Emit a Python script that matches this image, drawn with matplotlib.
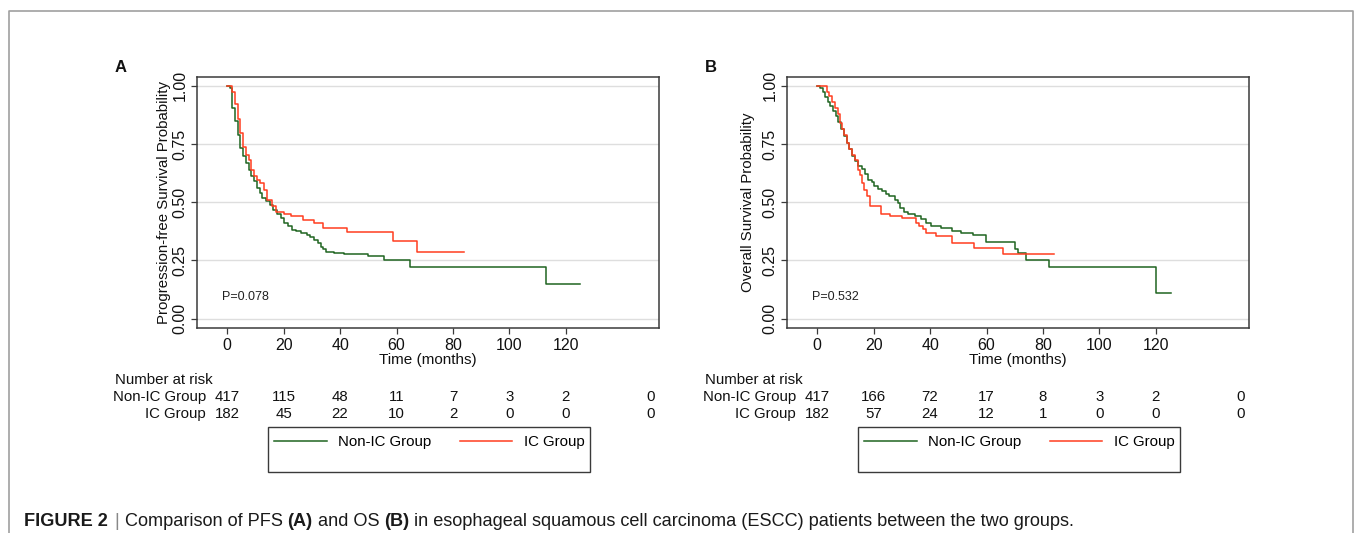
import matplotlib
matplotlib.use("Agg")
import matplotlib.pyplot as plt
from matplotlib import font_manager
from matplotlib.patches import Rectangle
from matplotlib.lines import Line2D
import numpy as np

# ---------------- data ----------------
# Panel A: PFS (step times in months, survival after each step)
pfs_nonic_t = [0, 1.0, 1.7, 2.75, 3.7, 4.6, 5.6, 6.7, 7.6, 8.5, 9.6, 10.5, 11.5, 12.5, 13.8, 15.1, 16.4,
               17.7, 19.0, 20.3, 21.6, 23.0, 24.3, 26.2, 28.2, 29.5, 30.8, 32.1, 33.2, 34.1, 35.0, 36.7,
               38.0, 41.3, 50.0, 55.7, 64.7, 113.0, 125.0]
pfs_nonic_s = [1.0, 0.99, 0.906, 0.849, 0.787, 0.734, 0.698, 0.67, 0.64, 0.612, 0.59, 0.561, 0.54, 0.518,
               0.504, 0.488, 0.468, 0.45, 0.432, 0.41, 0.396, 0.381, 0.375, 0.367, 0.36, 0.35, 0.338, 0.324,
               0.309, 0.298, 0.288, 0.285, 0.282, 0.279, 0.269, 0.252, 0.223, 0.151, 0.151]
pfs_ic_t = [0, 1.7, 2.75, 3.7, 4.6, 5.6, 6.7, 7.6, 8.5, 9.6, 10.6, 11.5, 12.9, 14.0, 15.7, 17.4, 20.3,
            22.7, 26.9, 30.8, 33.8, 42.6, 58.8, 67.1, 84.0]
pfs_ic_s = [1.0, 0.974, 0.924, 0.859, 0.796, 0.737, 0.705, 0.683, 0.64, 0.612, 0.597, 0.583, 0.554, 0.511,
            0.482, 0.46, 0.45, 0.439, 0.424, 0.41, 0.391, 0.371, 0.334, 0.285, 0.285]

# Panel B: OS
os_nonic_t = [0, 0.9, 2.0, 2.9, 3.8, 4.7, 5.6, 6.6, 7.5, 8.5, 9.6, 10.5, 11.4, 12.5, 13.5, 14.6, 15.7,
              17.0, 18.1, 19.3, 20.3, 21.6, 23.0, 24.3, 25.6, 27.5, 28.5, 29.5, 30.8, 32.1, 34.8, 36.7,
              38.7, 40.3, 43.9, 47.9, 51.1, 55.1, 59.7, 70.2, 71.1, 74.1, 82.0, 120.0, 125.2]
os_nonic_s = [1.0, 0.99, 0.975, 0.953, 0.932, 0.914, 0.892, 0.87, 0.843, 0.813, 0.783, 0.755, 0.727, 0.7,
              0.678, 0.655, 0.642, 0.621, 0.597, 0.585, 0.57, 0.558, 0.547, 0.536, 0.525, 0.511, 0.496,
              0.477, 0.46, 0.45, 0.442, 0.427, 0.413, 0.399, 0.388, 0.378, 0.37, 0.36, 0.331, 0.301,
              0.281, 0.252, 0.223, 0.112, 0.112]
os_ic_t = [0, 3.3, 4.2, 5.2, 6.2, 7.2, 8.0, 8.8, 9.6, 10.5, 11.4, 12.5, 13.4, 14.4, 15.1, 15.9, 16.7,
           17.7, 18.8, 22.7, 25.8, 30.2, 35.0, 36.1, 37.4, 38.7, 42.0, 47.9, 55.7, 66.0, 84.0]
os_ic_s = [1.0, 0.975, 0.957, 0.93, 0.906, 0.878, 0.842, 0.813, 0.791, 0.755, 0.727, 0.705, 0.683, 0.64,
           0.619, 0.583, 0.554, 0.525, 0.485, 0.45, 0.442, 0.432, 0.413, 0.399, 0.384, 0.37, 0.353,
           0.327, 0.302, 0.278, 0.278]

risk_times = [0, 20, 40, 60, 80, 100, 120, 150]
pfs_risk_nonic = [417, 115, 48, 11, 7, 3, 2, 0]
pfs_risk_ic = [182, 45, 22, 10, 2, 0, 0, 0]
os_risk_nonic = [417, 166, 72, 17, 8, 3, 2, 0]
os_risk_ic = [182, 57, 24, 12, 1, 0, 0, 0]

group_names = ["Non-IC Group", "IC Group"]
panel_letters = ["A", "B"]
ylabels = ["Progression-free Survival Probability", "Overall Survival Probability"]
pvalues = ["P=0.078", "P=0.532"]
xticks = [0, 20, 40, 60, 80, 100, 120]
yticks = [0.0, 0.25, 0.5, 0.75, 1.0]
caption_parts = [("FIGURE 2", "bold"), ("|", "sep"), ("Comparison of PFS", "normal"), ("(A)", "bold"),
                 ("and OS", "normal"), ("(B)", "bold"),
                 ("in esophageal squamous cell carcinoma (ESCC) patients between the two groups.", "normal")]

# ---------------- style ----------------
GREEN = "#1f6420"
RED = "#ff3d1f"
FONT = "Liberation Sans"


def has_font(name):
    try:
        font_manager.findfont(font_manager.FontProperties(family=name), fallback_to_default=False)
        return True
    except Exception:
        return False


CAPFONT = "Liberation Sans Narrow" if has_font("Liberation Sans Narrow") else FONT
CAPSIZE = 14.5 if CAPFONT != FONT else 13.1
plt.rcParams["font.family"] = [FONT, "DejaVu Sans"]

W, H = 1355, 533
fig = plt.figure(figsize=(W / 100, H / 100), dpi=100)


def fx(px):
    return px / W


def fy(py):
    return 1 - py / H


# outer frame (left, top, right)
fig.add_artist(Line2D([fx(9), fx(9), fx(1353), fx(1353)], [0, fy(11), fy(11), 0],
                      transform=fig.transFigure, color="#a0a0a0", lw=1.2))

panels = [
    dict(left=197, curves=[(pfs_nonic_t, pfs_nonic_s), (pfs_ic_t, pfs_ic_s)],
         risk=[pfs_risk_nonic, pfs_risk_ic], ylabpad=1),
    dict(left=787, curves=[(os_nonic_t, os_nonic_s), (os_ic_t, os_ic_s)],
         risk=[os_risk_nonic, os_risk_ic], ylabpad=5),
]
AX_W, AX_TOP, AX_BOT = 462, 77, 328

for i, p in enumerate(panels):
    ax = fig.add_axes([fx(p["left"]), fy(AX_BOT), (AX_W) / W, (AX_BOT - AX_TOP) / H])
    ax.set_xlim(-10.7, 153)
    ax.set_ylim(-0.04, 1.038)
    for yv in yticks:
        ax.axhline(yv, color="#dedede", lw=1.0, zorder=1)
    for (t, s), c, name in zip(p["curves"], [GREEN, RED], group_names):
        ax.step(t, s, where="post", color=c, lw=1.1, zorder=3, label=name)
    for sp in ax.spines.values():
        sp.set_color("#3a3a3a")
        sp.set_linewidth(1.1)
    ax.set_xticks(xticks)
    ax.set_yticks(yticks)
    ax.set_yticklabels([f"{v:.2f}" for v in yticks], rotation=90, va="center")
    ax.tick_params(direction="out", length=4, width=0.9, color="#3a3a3a", labelsize=11.5,
                   labelcolor="#111111", pad=3)
    ax.set_xlabel("Time (months)", fontsize=11, labelpad=0, color="#111111")
    ax.set_ylabel(ylabels[i], fontsize=10.8, labelpad=p["ylabpad"], color="#111111")
    ax.text(-2.0, 0.092, pvalues[i], fontsize=9, va="center", ha="left", color="#222222")
    fig.text(fx(p["left"] - 76), fy(68), panel_letters[i], fontsize=12, fontweight="bold",
             ha="center", va="center", color="#111111")

    # number at risk table
    tr = matplotlib.transforms.blended_transform_factory(ax.transData, fig.transFigure)
    fig.text(fx(p["left"] - 82), fy(380), "Number at risk", fontsize=10.8, ha="left", va="center",
             color="#111111")
    for r, (name, vals) in enumerate(zip(group_names, p["risk"])):
        yy = fy(397 + 17 * r)
        fig.text(fx(p["left"] + 9), yy, name, fontsize=10.8, ha="right", va="center", color="#111111")
        for tt, v in zip(risk_times, vals):
            ax.text(tt, yy, str(v), transform=tr, fontsize=10.8, ha="center", va="center",
                    color="#111111")

    # legend
    fig.add_artist(Rectangle((fx(p["left"] + 71), fy(472)), (589.5 - 268) / W, (472 - 427) / H,
                             transform=fig.transFigure, fill=False, edgecolor="#3a3a3a", lw=1.0))
    ax.legend(loc="center left", bbox_to_anchor=(fx(p["left"] + 77), fy(442)),
              bbox_transform=fig.transFigure, ncol=2, frameon=False, borderpad=0,
              fontsize=10.8, handlelength=3.5, handletextpad=0.8, columnspacing=1.85,
              borderaxespad=0)

# caption
fig.canvas.draw()
renderer = fig.canvas.get_renderer()


def text_width(s, weight):
    t = fig.text(0, 0, s, fontsize=CAPSIZE, family=CAPFONT, fontweight=weight)
    w = t.get_window_extent(renderer).width
    t.remove()
    return w


space = text_width("x x", "normal") - text_width("xx", "normal")
x = 24.0
cy = fy(521)
for s, kind in caption_parts:
    if kind == "sep":
        t = fig.text(fx(x + 1), cy, s, fontsize=CAPSIZE, family=CAPFONT, color="#888888",
                     va="center", ha="left")
    else:
        t = fig.text(fx(x), cy, s, fontsize=CAPSIZE, family=CAPFONT,
                     fontweight="bold" if kind == "bold" else "normal",
                     color="#1a1a1a", va="center", ha="left")
    bb = t.get_window_extent(renderer)
    x = bb.x1 + space + (1 if kind == "sep" else 0)

fig.savefig("out.png", dpi=100)
